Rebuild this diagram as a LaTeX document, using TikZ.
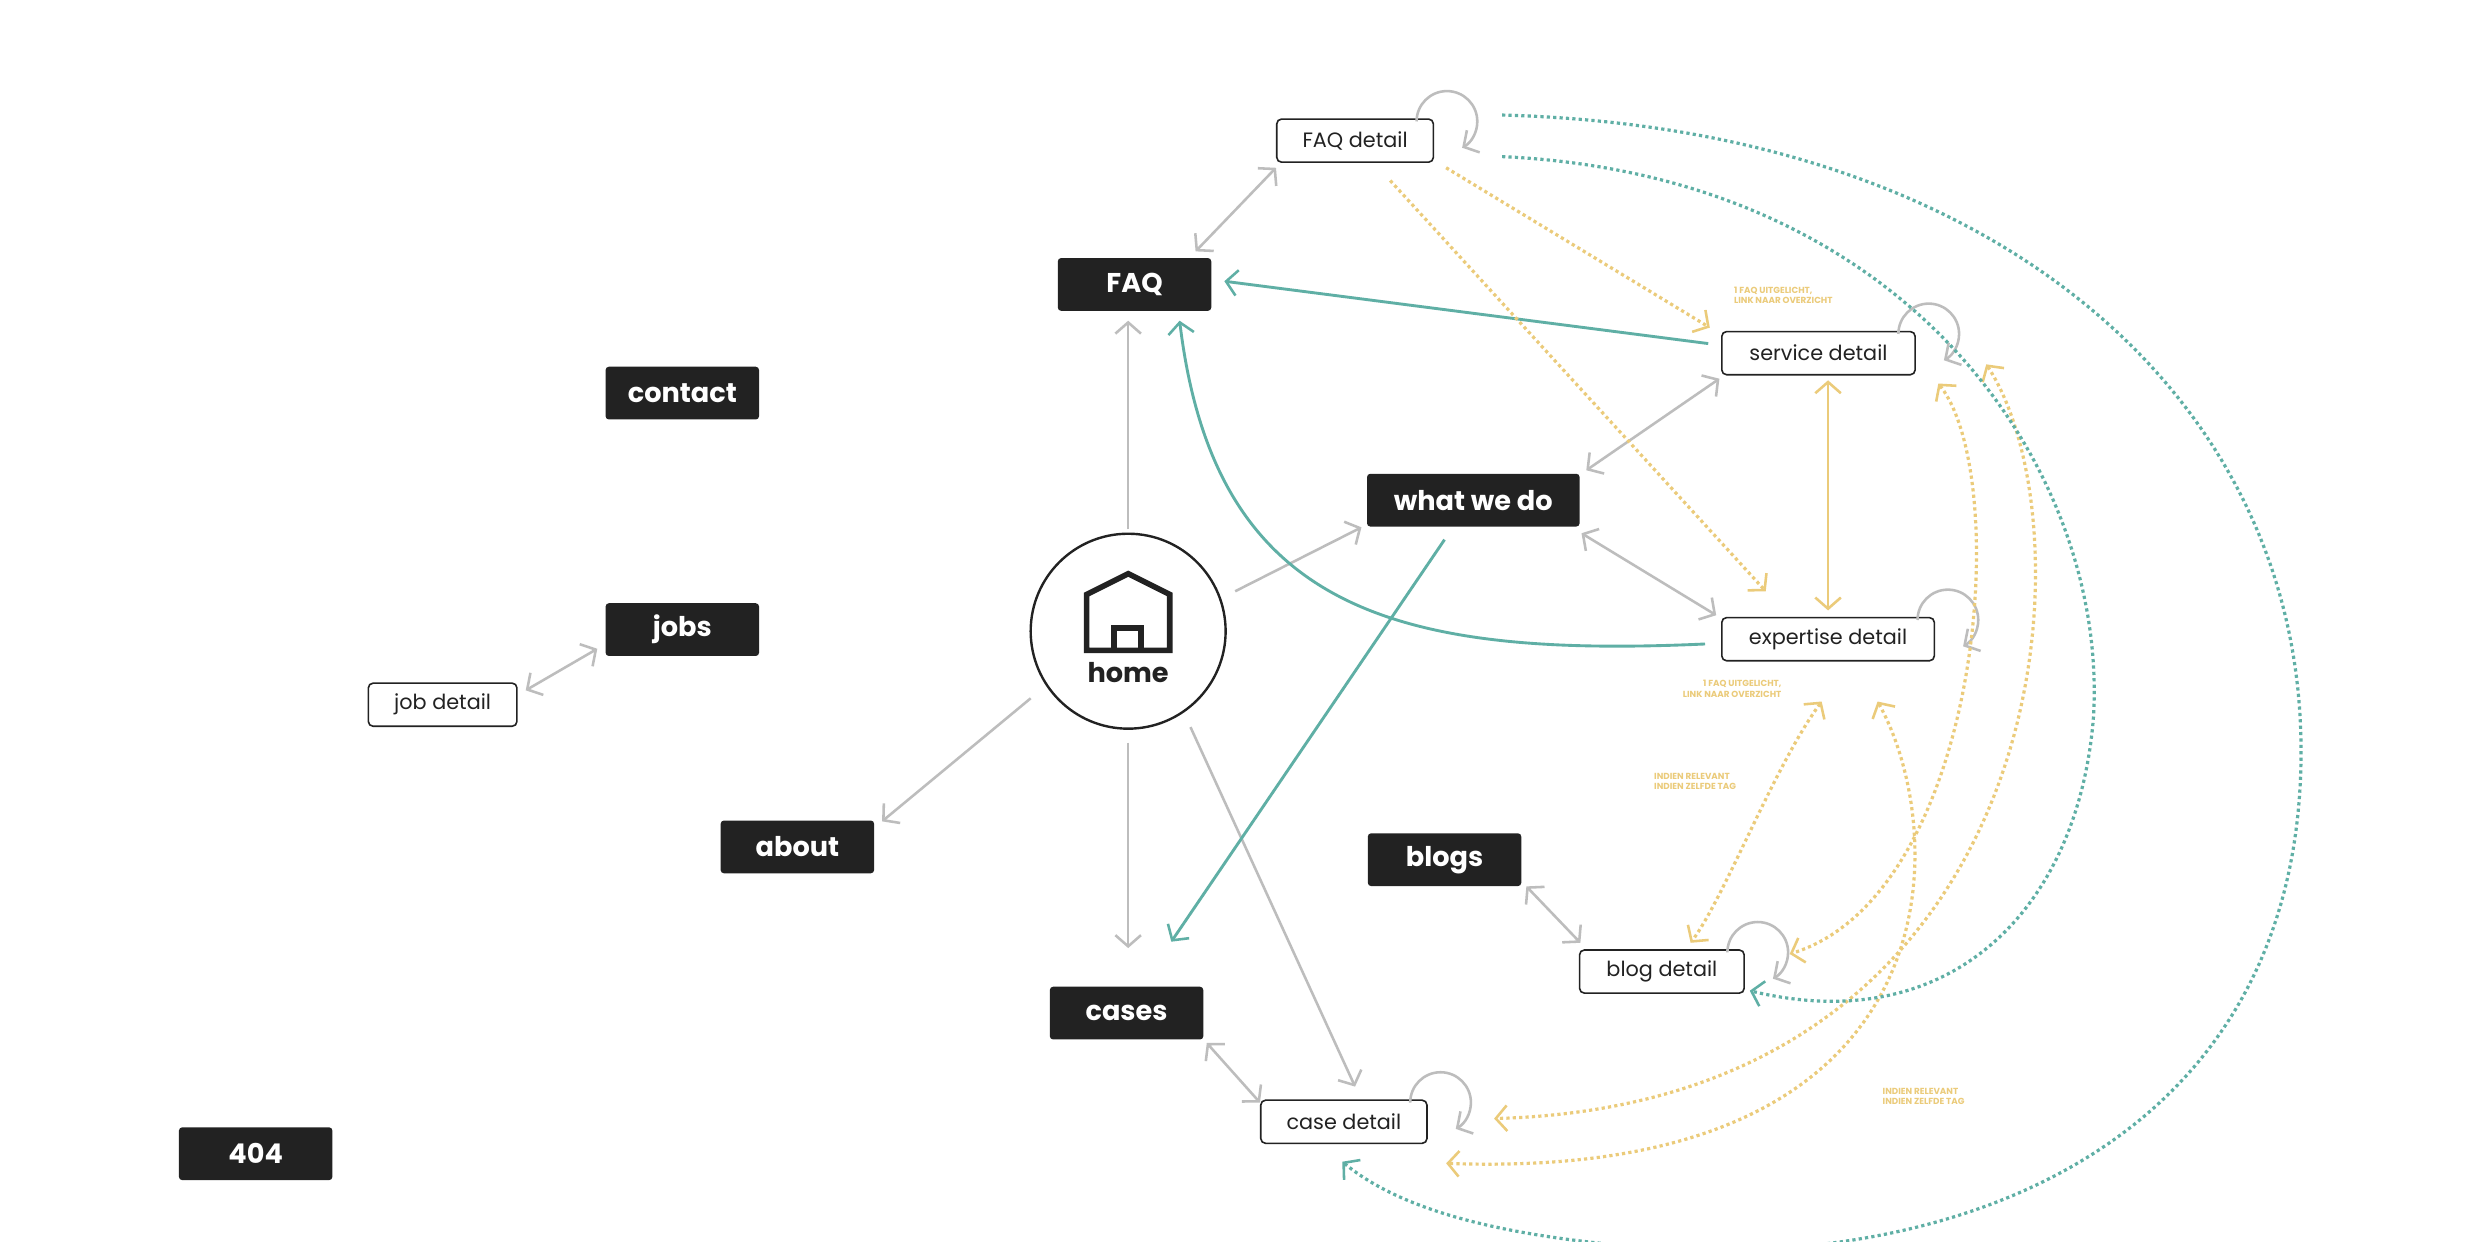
\documentclass[tikz,border=0pt]{standalone}
\usepackage{fontspec}
\setmainfont{Poppins}
\usetikzlibrary{arrows.meta,calc}
\definecolor{ink}{HTML}{222222}
\definecolor{gr}{HTML}{BDBDBD}
\definecolor{yl}{HTML}{EBCB7A}
\definecolor{tl}{HTML}{5FAFA5}
\tikzset{
 tip/.tip={Straight Barb[length=7pt,width=16pt,line width=1.6pt]},
 blk/.style={fill=ink,text=white,rounded corners=2pt,minimum width=96pt,minimum height=33pt,font=\fontsize{17}{17}\selectfont\bfseries,inner sep=0},
 wht/.style={draw=ink,fill=white,line width=1pt,rounded corners=3pt,minimum height=27pt,font=\fontsize{13}{13}\selectfont,inner sep=4pt,text=ink},
 g/.style={draw=gr,line width=1.6pt,{tip}-{tip}},
 g1/.style={draw=gr,line width=1.6pt,-{tip}},
 ts/.style={draw=tl,line width=1.8pt,-{tip}},
 td/.style={draw=tl,line width=2pt,dotted,-{tip}},
 yd/.style={draw=yl,line width=2pt,dotted,{tip}-{tip}},
 yd1/.style={draw=yl,line width=2pt,dotted,-{tip}},
 lbl/.style={text=yl,font=\fontsize{5.5}{6.5}\selectfont\bfseries,inner sep=0},
 lp/.style={draw=gr,line width=1.6pt,-{tip}},
}
\begin{document}
\begin{tikzpicture}[x=1pt,y=-1pt]
\useasboundingbox (0,0) rectangle (1552,777);
\fill[white] (0,0) rectangle (1552,777);
% nodes
\node[blk] (faq) at (710,178) {FAQ};
\node[blk] (contact) at (427,246) {contact};
\node[blk] (jobs) at (427,394) {jobs};
\node[blk] (about) at (499,530) {about};
\node[blk] (e404) at (160,722) {404};
\node[blk,minimum width=133pt] (wwd) at (922,313) {what we do};
\node[blk] (blogs) at (904,538) {blogs};
\node[blk] (cases) at (705,634) {cases};
\node[wht,minimum width=98pt] (fd) at (848,88) {FAQ detail};
\node[wht,minimum width=93pt] (jd) at (277,441) {job detail};
\node[wht,minimum width=121pt] (sd) at (1138,221) {service detail};
\node[wht,minimum width=133pt] (ed) at (1144,400) {expertise detail};
\node[wht,minimum width=103pt] (bd) at (1040,608) {blog detail};
\node[wht,minimum width=104pt] (cd) at (841,702) {case detail};
\node[circle,draw=ink,line width=1.5pt,minimum size=122pt] (home) at (706,395) {};
% house icon
\draw[ink,line width=3.5pt,line join=miter] (680,407) -- (680,372) -- (706,359) -- (732,372) -- (732,407) -- cycle;
\draw[ink,line width=3.5pt] (697,407) -- (697,393) -- (714,393) -- (714,407);
\node[font=\fontsize{17}{17}\selectfont\bfseries,text=ink] (hl) at (706,421) {home};
% self loops
\foreach \n in {fd,sd,ed,bd,cd}{
 \draw[lp] ($(\n.north east)+(-11,2)$) arc[start angle=180,end angle=420,radius=19];
}
% gray connectors
\draw[g] ($(fd.south west)+(0,3)$) -- ($(faq.north east)+(-10,-4)$);
\draw[g1] ($(home.north)+(0,-2)$) -- ($(faq.south)+(-4,6)$);
\draw[g1] (773,370) -- (852,330);
\draw[g1] (645,437) -- (552,514);
\draw[g1] ($(home.south)+(0,8)$) -- ($(cases.north)+(1,-24)$);
\draw[g1] (745,455) -- ($(cd.north)+(7,-8)$);
\draw[g] ($(jobs.west)+(-5,12)$) -- ($(jd.north east)+(5,5)$);
\draw[g] ($(wwd.north east)+(4,-2)$) -- ($(sd.south west)+(-1,2)$);
\draw[g] ($(wwd.south east)+(1,4)$) -- ($(ed.north west)+(-3,-1)$);
\draw[g] ($(blogs.south east)+(3,0)$) -- ($(bd.north west)+(1,-4)$);
\draw[g] ($(cases.south east)+(2,2)$) -- ($(cd.north west)+(0,2)$);
% yellow solid
\draw[draw=yl,line width=1.6pt,{tip}-{tip}] ($(sd.south)+(6,3)$) -- ($(ed.north)+(0,-4)$);
% teal solid
\draw[ts] ($(sd.west)+(-8,-6)$) -- ($(faq.east)+(8,-2)$);
\draw[ts] ($(ed.west)+(-10,3)$) .. controls (870,412) and (760,380) .. ($(faq.south east)+(-20,6)$);
\draw[ts] ($(wwd.south)+(-18,8)$) -- ($(cases.north)+(28,-28)$);
% yellow dotted
\draw[yd1] (905,105) -- (1070,205);
\draw[yd1] (870,113) -- (1105,370);
\draw[yd] ($(ed.south)+(-4,25)$) .. controls (1110,480) and (1080,560) .. (1058,590);
\draw[yd] (1213,240) .. controls (1260,300) and (1240,560) .. (1120,597);
\draw[yd] (1243,228) .. controls (1310,330) and (1290,690) .. (935,700);
\draw[yd] ($(ed.south)+(31,25)$) .. controls (1220,520) and (1230,740) .. (905,728);
% teal dotted
\draw[td] (940,72) .. controls (1250,80) and (1440,250) .. (1440,470) .. controls (1440,700) and (1250,790) .. (1050,782) .. controls (950,776) and (880,760) .. (840,727);
\draw[td] (940,98) .. controls (1200,110) and (1320,300) .. (1310,450) .. controls (1300,570) and (1220,650) .. (1095,620);
% labels
\node[lbl,align=left,anchor=west] (l1) at (1085,185) {1 FAQ UITGELICHT,\\LINK NAAR OVERZICHT};
\node[lbl,align=right,anchor=east] (l2) at (1115,431) {1 FAQ UITGELICHT,\\LINK NAAR OVERZICHT};
\node[lbl,align=left,anchor=west] (l3) at (1035,489) {INDIEN RELEVANT\\INDIEN ZELFDE TAG};
\node[lbl,align=left,anchor=west] (l4) at (1178,686) {INDIEN RELEVANT\\INDIEN ZELFDE TAG};
\end{tikzpicture}
\end{document}
